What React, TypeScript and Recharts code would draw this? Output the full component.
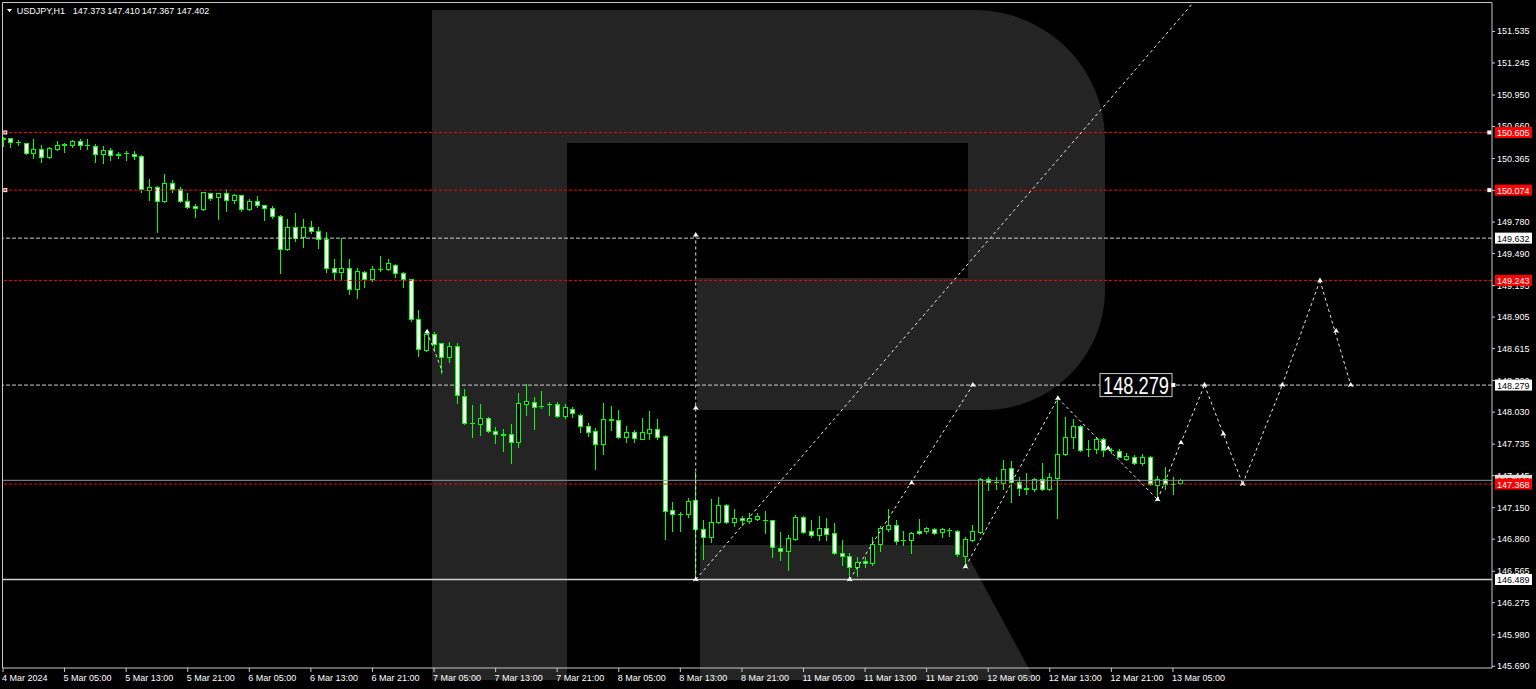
import React from 'react';
import { ComposedChart, Bar, XAxis, YAxis, ReferenceLine, ReferenceDot } from 'recharts';

const W = 1536;
const H = 689;
const FONT = '"Liberation Sans", Arial, sans-serif';

// ---- candle data (USDJPY H1, bar index 0 = 4 Mar 21:00) ----
const opens = [150.548,150.552,150.515,150.506,150.419,150.453,150.382,150.456,150.497,150.493,
150.530,150.488,150.481,150.410,150.444,150.403,150.412,150.410,150.389,150.075,
150.103,149.974,150.140,150.085,149.971,149.928,149.903,150.045,150.008,150.045,
149.983,150.027,149.898,149.971,149.934,149.910,149.839,149.529,149.738,149.640,
149.732,149.701,149.624,149.360,149.323,149.357,149.161,149.318,149.256,149.346,
149.348,149.385,149.314,149.253,148.890,148.605,148.749,148.664,148.540,148.639,
148.182,147.933,147.921,147.974,147.860,147.827,147.827,147.752,148.108,148.127,
148.085,148.105,148.102,147.992,148.062,148.004,147.906,147.857,147.737,147.967,
147.958,147.805,147.845,147.786,147.841,147.872,147.811,147.127,147.095,147.090,
147.221,146.951,146.878,147.018,147.172,147.018,147.052,147.028,147.049,147.039,
147.037,146.782,146.752,146.865,147.062,146.936,146.896,146.966,146.914,146.736,
146.708,146.601,146.660,146.639,146.813,146.954,146.988,146.851,146.853,146.939,
146.936,146.957,146.924,146.947,146.939,146.708,146.853,146.929,147.412,147.386,
147.375,147.513,147.389,147.326,147.319,147.417,147.319,147.426,147.642,147.798,
147.902,147.688,147.691,147.780,147.683,147.675,147.596,147.614,147.564,147.614,
147.357,147.412,147.367,147.373];

const highs = [150.560,150.557,150.536,150.508,150.542,150.490,150.474,150.530,150.511,150.536,
150.542,150.542,150.496,150.481,150.462,150.428,150.438,150.432,150.398,150.177,
150.112,150.223,150.168,150.106,150.051,149.946,150.057,150.048,150.051,150.082,
150.039,150.029,149.993,150.017,149.937,149.928,149.842,149.806,149.861,149.806,
149.793,149.732,149.691,149.437,149.636,149.437,149.354,149.330,149.378,149.468,
149.437,149.394,149.320,149.260,148.971,148.786,148.768,148.667,148.679,148.669,
148.243,148.096,148.105,147.989,147.896,147.872,147.918,148.210,148.289,148.173,
148.228,148.127,148.127,148.105,148.077,148.013,147.933,147.881,148.117,148.087,
148.050,147.903,147.866,147.979,148.041,147.964,147.820,147.200,147.113,147.237,
147.482,147.037,147.228,147.252,147.184,147.135,147.074,147.104,147.098,147.120,
147.040,146.930,146.899,147.083,147.074,147.037,147.074,147.052,147.012,146.853,
146.730,146.694,146.697,146.884,146.982,147.135,147.037,146.936,146.929,147.043,
146.975,146.966,146.961,146.961,146.945,146.884,146.991,147.421,147.436,147.430,
147.589,147.580,147.436,147.472,147.428,147.559,147.467,148.158,147.983,147.964,
147.912,147.773,147.789,147.789,147.702,147.688,147.657,147.635,147.645,147.626,
147.442,147.522,147.436,147.410];

const lows = [150.480,150.474,150.490,150.407,150.373,150.336,150.373,150.444,150.426,150.474,
150.453,150.453,150.336,150.327,150.352,150.373,150.352,150.364,150.060,149.983,
149.691,149.962,150.060,149.965,149.907,149.824,149.891,149.983,149.806,149.885,
149.953,149.885,149.891,149.916,149.799,149.815,149.314,149.520,149.609,149.554,
149.677,149.544,149.323,149.259,149.247,149.115,149.078,149.185,149.241,149.333,
149.339,149.272,149.185,148.872,148.549,148.596,148.602,148.387,148.494,148.112,
147.921,147.799,147.820,147.851,147.749,147.672,147.564,147.712,148.004,147.875,
148.071,148.004,147.989,147.979,147.988,147.848,147.811,147.509,147.644,147.866,
147.790,147.759,147.759,147.780,147.783,147.783,146.865,146.936,146.936,147.068,
146.489,146.681,146.837,147.012,147.012,146.982,146.991,147.012,147.037,146.920,
146.700,146.669,146.576,146.853,146.920,146.878,146.853,146.853,146.721,146.620,
146.487,146.521,146.608,146.620,146.752,146.938,146.816,146.807,146.731,146.912,
146.920,146.912,146.884,146.890,146.708,146.607,146.844,146.920,147.313,147.320,
147.320,147.206,147.267,147.276,147.308,147.313,147.313,147.053,147.633,147.697,
147.675,147.626,147.657,147.626,147.657,147.614,147.589,147.552,147.543,147.359,
147.221,147.320,147.276,147.367];

const closes = [150.552,150.520,150.513,150.419,150.450,150.382,150.462,150.490,150.493,150.524,
150.493,150.485,150.410,150.444,150.401,150.399,150.415,150.386,150.082,150.106,
149.977,150.140,150.082,149.971,149.921,149.907,150.054,150.005,150.045,149.983,
150.029,149.898,149.974,149.934,149.907,149.836,149.529,149.738,149.631,149.732,
149.701,149.624,149.357,149.323,149.360,149.161,149.327,149.259,149.345,149.350,
149.406,149.314,149.259,148.890,148.614,148.749,148.657,148.540,148.639,148.188,
147.933,147.928,147.974,147.860,147.827,147.823,147.752,148.112,148.130,148.081,
148.090,148.109,147.992,148.075,148.020,147.906,147.851,147.737,147.970,147.962,
147.805,147.845,147.796,147.845,147.872,147.805,147.123,147.090,147.090,147.215,
146.951,146.878,147.021,147.172,147.018,147.052,147.034,147.055,147.074,147.035,
146.786,146.752,146.868,147.062,146.929,146.896,146.966,146.911,146.736,146.706,
146.601,146.653,146.639,146.816,146.961,146.988,146.847,146.855,146.920,146.914,
146.961,146.920,146.952,146.943,146.721,146.859,146.936,147.412,147.384,147.382,
147.504,147.389,147.328,147.330,147.417,147.319,147.430,147.645,147.798,147.902,
147.681,147.693,147.780,147.681,147.679,147.620,147.623,147.564,147.614,147.366,
147.412,147.366,147.371,147.402];

// ---- axes ----
const xTickIdx = [0, 8, 16, 24, 32, 40, 48, 56, 64, 72, 80, 88, 96, 104, 112, 120, 128, 136, 144, 152];
const xTickLabels = ['4 Mar 2024', '5 Mar 05:00', '5 Mar 13:00', '5 Mar 21:00', '6 Mar 05:00', '6 Mar 13:00',
  '6 Mar 21:00', '7 Mar 05:00', '7 Mar 13:00', '7 Mar 21:00', '8 Mar 05:00', '8 Mar 13:00', '8 Mar 21:00',
  '11 Mar 05:00', '11 Mar 13:00', '11 Mar 21:00', '12 Mar 05:00', '12 Mar 13:00', '12 Mar 21:00', '13 Mar 05:00'];
const xDomain = [0, 193.45];
const yTicks = [151.535, 151.245, 150.950, 150.660, 150.365, 150.070, 149.780, 149.490, 149.195, 148.905,
  148.615, 148.320, 148.030, 147.735, 147.445, 147.150, 146.860, 146.565, 146.275, 145.980, 145.690];
const yDomain = [145.674, 151.797];

// ---- levels ----
const redLevels = [150.605, 150.074, 149.243, 147.368];
const whiteLevels = [149.632, 148.279];
const supportLevel = 146.489;
const bidPrice = 147.402;
const targetLevel = 148.279;
const title = ['USDJPY,H1', '147.373', '147.410', '147.367', '147.402'];

// ---- wave / forecast paths (bar index, price) ----
const verticalX = [90, 90];
const verticalY = [146.489, 149.66];
const channelX = [90, 154.6];
const channelY = [146.489, 151.797];
const waveBX = [110, 126];
const waveBY = [146.489, 148.279];
const waveCX = [125.05, 137.05, 150];
const waveCY = [146.607, 148.158, 147.225];
const waveDX = [55.1, 57.1];
const waveDY = [148.769, 148.40];
const forecastX = [150, 156.1, 161.05, 166.2, 171.1, 175.1];
const forecastY = [147.225, 148.279, 147.368, 148.279, 149.243, 148.279];
const arrowX = [90, 90, 90, 110, 118.05, 126, 125.05, 137.05, 143.6, 150, 153.05, 156.1, 158.55, 161.05, 166.2, 171.1, 173.2, 175.1, 55.1];
const arrowY = [146.489, 148.068, 149.66, 146.489, 147.378, 148.279, 146.607, 148.158, 147.697, 147.225, 147.747, 148.279, 147.829, 147.368, 148.279, 149.243, 148.777, 148.279, 148.769];

const data = opens.map((o, i) => ({ i, o, h: highs[i], l: lows[i], c: closes[i], range: [lows[i], highs[i]] }));

const Candle = (props: any) => {
  const { x, y, width, height, payload } = props;
  if (x == null || y == null || !payload) return null;
  const { o, h, l, c } = payload;
  const top = Math.min(y, y + height);
  const hh = Math.abs(height);
  const toY = (p: number) => (h - l > 0 ? top + ((h - p) / (h - l)) * hh : top);
  const cx = Math.round(x + width / 2);
  const yo = toY(o);
  const yc = toY(c);
  const bt = Math.round(Math.min(yo, yc));
  const bb = Math.round(Math.max(yo, yc));
  const bull = c >= o;
  return (
    <g>
      <line x1={cx + 0.5} x2={cx + 0.5} y1={Math.round(top)} y2={Math.round(top + hh) + 1} stroke="#00ff00" strokeWidth={1} />
      {bb - bt < 1 ? (
        <line x1={cx - 2} x2={cx + 3} y1={bt + 0.5} y2={bt + 0.5} stroke="#00ff00" strokeWidth={1} />
      ) : (
        <rect x={cx - 1.5} y={bt + 0.5} width={4} height={bb - bt} fill={bull ? '#000000' : '#ffffff'} stroke="#00ff00" strokeWidth={1} />
      )}
    </g>
  );
};

const XTick = (props: any) => {
  const { x, y, payload } = props;
  const k = xTickIdx.indexOf(payload.value);
  return (
    <text x={x - 1} y={y + 9} fill="#ffffff" fontSize={9} fontFamily={FONT} textAnchor="start">
      {k >= 0 ? xTickLabels[k] : ''}
    </text>
  );
};

const YTick = (props: any) => {
  const { x, y, payload } = props;
  return (
    <text x={x} y={y + 3} fill="#ffffff" fontSize={9} fontFamily={FONT} textAnchor="start">
      {Number(payload.value).toFixed(3)}
    </text>
  );
};

const makeTag = (bg: string, fg: string, text: string) => (p: any) => (
  <g>
    <rect x={p.cx + 3} y={p.cy - 5.5} width={37} height={11} fill={bg} />
    <text x={p.cx + 5} y={p.cy + 3.5} fontSize={9} fill={fg} fontFamily={FONT}>{text}</text>
  </g>
);

const EndSquare = (p: any) => (
  <g>
    <rect x={p.cx - 2} y={p.cy - 2} width={4} height={4} fill="#ffffff" />
    <rect x={p.cx - 1} y={p.cy - 1} width={2} height={2} fill="#ff0000" />
  </g>
);

const WhiteSquare = (p: any) => <rect x={p.cx - 2} y={p.cy - 2} width={4} height={4} fill="#ffffff" />;

const ArrowMark = (p: any) => (
  <polygon
    points={`${p.cx},${p.cy - 3} ${p.cx + 3},${p.cy + 2} ${p.cx},${p.cy + 1} ${p.cx - 3},${p.cy + 2}`}
    fill="#ffffff"
  />
);

const BigLabel = (p: any) => (
  <g>
    <rect x={p.cx - 36} y={p.cy - 11.5} width={72} height={23} fill="#000000" stroke="#c8c8c8" strokeWidth={1} />
    <text x={p.cx - 33} y={p.cy + 9} fontSize={24} fill="#ffffff" fontFamily={FONT} textLength={66} lengthAdjust="spacingAndGlyphs">
      {targetLevel.toFixed(3)}
    </text>
  </g>
);

const segs = (xs: number[], ys: number[]) =>
  xs.slice(1).map((_, k) => [{ x: xs[k], y: ys[k] }, { x: xs[k + 1], y: ys[k + 1] }]);

const dashedPaths = [
  ...segs(verticalX, verticalY),
  ...segs(channelX, channelY),
  ...segs(waveBX, waveBY),
  ...segs(waveCX, waveCY),
  ...segs(waveDX, waveDY),
  ...segs(forecastX, forecastY),
];

const Watermark = () => (
  <svg width={W} height={H} style={{ position: 'absolute', left: 0, top: 0 }}>
    <rect x={0} y={0} width={W} height={H} fill="#000000" />
    <path
      d="M432,10 L975,10 A130,130 0 0 1 1105,140 L1105,290 A120,120 0 0 1 985,410 L697,410 L697,278 L968,278 L968,143 L567,143 L567,680 L432,680 Z"
      fill="#242424"
    />
    <path d="M700,545 L962,545 L1035,680 L700,680 Z" fill="#242424" />
    <path d="M2.5,668 L2.5,2.5 L1492,2.5" stroke="#c8c8c8" strokeWidth={1} fill="none" />
    <polygon points="7,9 12,9 9.5,12.3" fill="#ffffff" />
    <text x={16.7} y={14} fontSize={9} fill="#ffffff" fontFamily={FONT}>{title[0]}</text>
    <text x={72.7} y={14} fontSize={9} fill="#ffffff" fontFamily={FONT}>{title[1]}</text>
    <text x={107.3} y={14} fontSize={9} fill="#ffffff" fontFamily={FONT}>{title[2]}</text>
    <text x={141.7} y={14} fontSize={9} fill="#ffffff" fontFamily={FONT}>{title[3]}</text>
    <text x={176.7} y={14} fontSize={9} fill="#ffffff" fontFamily={FONT}>{title[4]}</text>
  </svg>
);

const layerStyle: React.CSSProperties = { position: 'absolute', left: 0, top: 0 };

export default function App() {
  return (
    <div style={{ position: 'absolute', left: 0, top: 0, width: W, height: H, background: '#000', overflow: 'hidden' }}>
      <Watermark />
      <div style={layerStyle}>
        <ComposedChart width={W} height={H} data={data} margin={{ top: 3, right: 0, bottom: 0, left: 3 }}>
          <XAxis
            dataKey="i"
            type="number"
            domain={xDomain}
            ticks={xTickIdx}
            interval={0}
            allowDataOverflow
            height={21}
            tickSize={4}
            tickMargin={0}
            tick={<XTick />}
            axisLine={{ stroke: '#c8c8c8' }}
            tickLine={{ stroke: '#c8c8c8' }}
          />
          <YAxis
            orientation="right"
            type="number"
            domain={yDomain}
            ticks={yTicks}
            interval={0}
            allowDataOverflow
            width={44}
            tickSize={3}
            tickMargin={2}
            tick={<YTick />}
            axisLine={{ stroke: '#c8c8c8' }}
            tickLine={{ stroke: '#c8c8c8' }}
          />
          <Bar dataKey="range" barSize={5} shape={<Candle />} isAnimationActive={false} />

          {whiteLevels.map((v) => (
            <ReferenceLine key={'w' + v} y={v} stroke="#d0d0d0" strokeDasharray="4 2" />
          ))}
          <ReferenceLine y={bidPrice} stroke="#8896a8" />
          {redLevels.map((v) => (
            <ReferenceLine key={'r' + v} y={v} stroke="#ff0000" strokeDasharray="3 2" />
          ))}
          <ReferenceLine y={supportLevel} stroke="#d0d0d0" strokeWidth={1.5} />

          {dashedPaths.map((s, k) => (
            <ReferenceLine key={'s' + k} segment={s} stroke="#e8e8e8" strokeDasharray="3 3" ifOverflow="visible" />
          ))}
          {arrowX.map((x, k) => (
            <ReferenceDot key={'a' + k} x={x} y={arrowY[k]} ifOverflow="visible" shape={ArrowMark} />
          ))}
          <ReferenceDot x={147.2} y={targetLevel} ifOverflow="visible" shape={BigLabel} />
          <ReferenceDot x={152.05} y={targetLevel} ifOverflow="visible" shape={WhiteSquare} />
          {[redLevels[0], redLevels[1]].map((v) => (
            <ReferenceDot key={'el' + v} x={0.3} y={v} ifOverflow="visible" shape={EndSquare} />
          ))}
          {[redLevels[0], redLevels[1]].map((v) => (
            <ReferenceDot key={'er' + v} x={193.1} y={v} ifOverflow="visible" shape={WhiteSquare} />
          ))}
        </ComposedChart>
      </div>

      {/* price tags on the right scale, drawn above the axis tick labels */}
      <div style={layerStyle}>
        <ComposedChart width={W} height={H} data={data} margin={{ top: 3, right: 44, bottom: 21, left: 3 }}>
          <XAxis dataKey="i" type="number" domain={xDomain} allowDataOverflow hide />
          <YAxis type="number" domain={yDomain} allowDataOverflow hide />
          {whiteLevels.map((v) => (
            <ReferenceDot key={'tw' + v} x={xDomain[1]} y={v} ifOverflow="visible" shape={makeTag('#ffffff', '#000000', v.toFixed(3))} />
          ))}
          <ReferenceDot x={xDomain[1]} y={supportLevel} ifOverflow="visible" shape={makeTag('#ffffff', '#000000', supportLevel.toFixed(3))} />
          <ReferenceDot x={xDomain[1]} y={bidPrice} ifOverflow="visible" shape={makeTag('#dcdcdc', '#000000', bidPrice.toFixed(3))} />
          {redLevels.map((v) => (
            <ReferenceDot key={'tr' + v} x={xDomain[1]} y={v} ifOverflow="visible" shape={makeTag('#ff0000', '#ffffff', v.toFixed(3))} />
          ))}
        </ComposedChart>
      </div>
    </div>
  );
}
